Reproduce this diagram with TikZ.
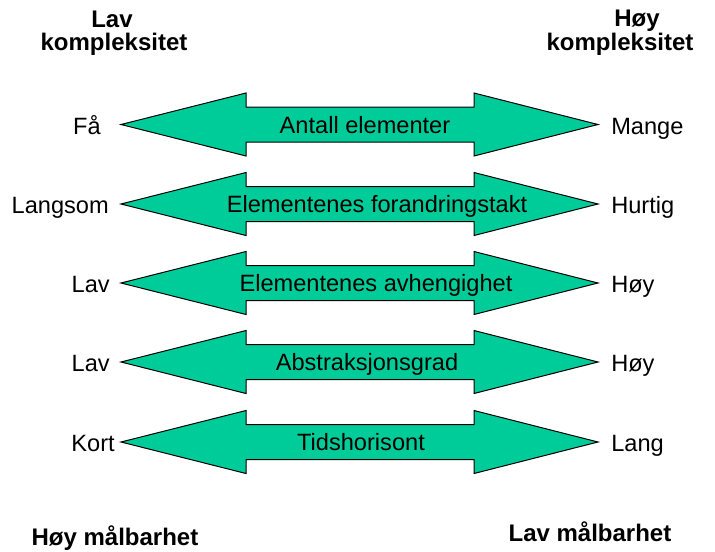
\documentclass[tikz,border=0pt]{standalone}
\usepackage{fontspec}
\setmainfont{Liberation Sans}
\definecolor{arrowgreen}{RGB}{0,204,153}
\begin{document}
\begin{tikzpicture}[x=0.75pt,y=-0.75pt,
  body/.style={fill=arrowgreen,draw=black,line width=0.75pt,line join=miter},
  lbl/.style={font=\fontsize{17.7}{21}\selectfont,inner sep=0pt,anchor=base},
  lefttxt/.style={lbl,anchor=base east},
  righttxt/.style={lbl,anchor=base west},
  heading/.style={font=\bfseries\fontsize{18}{21}\selectfont,inner sep=0pt,anchor=base},
  dblarrow/.pic={
    \draw[body] (121,0) -- (246,-31.5) -- (246,-17.5) -- (474,-17.5)
      -- (474,-31.5) -- (598,0) -- (474,31.5) -- (474,17.5)
      -- (246,17.5) -- (246,31.5) -- cycle;
  }]
  \fill[white] (0,0) rectangle (715,551);
  \useasboundingbox (0,0) rectangle (715,551);

  % column headings
  \node[heading] (hl1) at (112,27.5) {Lav};
  \node[heading] (hl2) at (114,50) {kompleksitet};
  \node[heading] (hr1) at (637,26) {Høy};
  \node[heading] (hr2) at (620,50) {kompleksitet};

  % row 1
  \pic at (0,124.5) {dblarrow};
  \node[lbl] (t1) at (365,133) {Antall elementer};
  \node[lefttxt] (l1) at (101,134) {Få};
  \node[righttxt] (r1) at (611,134) {Mange};

  % row 2
  \pic at (0,204) {dblarrow};
  \node[lbl] (t2) at (377,212.5) {Elementenes forandringstakt};
  \node[lefttxt] (l2) at (109,213.5) {Langsom};
  \node[righttxt] (r2) at (611,213.5) {Hurtig};

  % row 3
  \pic at (0,283) {dblarrow};
  \node[lbl] (t3) at (376,291.5) {Elementenes avhengighet};
  \node[lefttxt] (l3) at (110,292.5) {Lav};
  \node[righttxt] (r3) at (611,292.5) {Høy};

  % row 4
  \pic at (0,362) {dblarrow};
  \node[lbl] (t4) at (367,370.5) {Abstraksjonsgrad};
  \node[lefttxt] (l4) at (110,371.5) {Lav};
  \node[righttxt] (r4) at (611,371.5) {Høy};

  % row 5
  \pic at (0,442) {dblarrow};
  \node[lbl] (t5) at (361,450.5) {Tidshorisont};
  \node[lefttxt] (l5) at (115,451.5) {Kort};
  \node[righttxt] (r5) at (611,451.5) {Lang};

  % bottom headings
  \node[heading] (bl) at (115,545) {Høy målbarhet};
  \node[heading] (br) at (590,541) {Lav målbarhet};
\end{tikzpicture}
\end{document}
